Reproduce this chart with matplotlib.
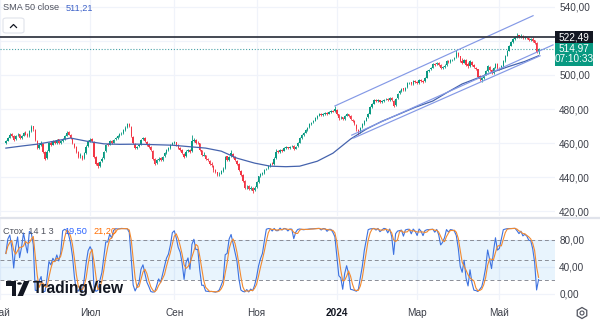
import numpy as np
import pandas as pd
import matplotlib
matplotlib.use("Agg")
import matplotlib.pyplot as plt
from matplotlib.patches import Rectangle, FancyBboxPatch, Circle, Polygon, RegularPolygon
from matplotlib.lines import Line2D

# ---------------- data ----------------
opens = [
    460.0, 461.5, 463.2, 465.4, 464.2, 462.3, 464.5, 465.2, 462.8, 464.3,
    466.4, 465.3, 464.2, 467.2, 469.8, 467.5, 461.5, 457.4, 459.2, 459.6,
    454.6, 451.5, 455.5, 460.3, 459.2, 461.3, 460.2, 462.2, 460.1, 461.2,
    462.2, 464.3, 466.3, 465.0, 462.8, 459.7, 457.6, 454.6, 452.2, 452.7,
    451.3, 454.3, 458.3, 461.2, 462.3, 460.5, 451.6, 448.2, 446.8, 449.3,
    451.4, 455.4, 459.4, 459.2, 461.3, 460.2, 462.2, 463.2, 464.2, 465.8,
    466.1, 467.7, 469.3, 471.2, 469.6, 463.7, 459.6, 457.2, 458.3, 459.2,
    462.3, 463.1, 460.8, 459.2, 457.8, 455.6, 450.6, 448.3, 450.3, 451.2,
    450.3, 452.2, 454.3, 456.2, 457.3, 459.2, 460.2, 460.4, 458.8, 457.1,
    455.8, 453.8, 452.3, 455.2, 456.1, 455.4, 461.3, 461.8, 460.1, 459.8,
    455.7, 452.7, 452.8, 450.8, 449.8, 447.8, 446.7, 444.2, 442.8, 441.7,
    442.2, 443.7, 445.4, 452.2, 450.3, 452.3, 453.8, 451.8, 449.8, 447.7,
    443.8, 441.2, 437.7, 434.2, 434.6, 433.2, 433.8, 432.3, 434.3, 437.3,
    440.7, 442.2, 442.7, 444.7, 445.2, 446.7, 448.2, 447.7, 451.3, 455.3,
    454.8, 456.2, 455.6, 457.2, 457.6, 457.2, 458.2, 458.4, 456.7, 458.2,
    460.3, 463.2, 464.7, 466.2, 467.7, 469.2, 471.2, 472.2, 473.2, 474.7,
    476.2, 477.1, 476.6, 477.1, 477.6, 477.2, 478.2, 479.1, 478.7, 479.6,
    476.8, 474.7, 475.1, 474.2, 476.2, 476.9, 475.8, 473.8, 472.8, 470.8,
    467.8, 466.3, 469.2, 471.2, 473.2, 475.2, 477.3, 481.2, 483.2, 485.1,
    484.6, 485.1, 484.1, 484.7, 485.6, 486.1, 485.2, 486.6, 484.8, 482.3,
    486.3, 489.2, 490.7, 492.1, 491.2, 492.7, 495.2, 495.6, 494.7, 496.6,
    496.1, 495.2, 497.1, 496.6, 496.2, 498.3, 502.2, 503.2, 504.2, 506.6,
    506.2, 507.1, 505.8, 504.2, 504.7, 505.7, 508.1, 507.6, 508.6, 509.2,
    510.2, 512.8, 510.8, 508.3, 507.2, 508.8, 506.2, 505.2, 507.8, 505.8,
    504.3, 503.2, 499.2, 497.3, 498.2, 500.2, 502.2, 504.8, 502.8, 501.2,
    504.2, 506.3, 504.1, 503.7, 505.2, 508.2, 511.2, 514.2, 517.2, 519.2,
    521.2, 522.2, 523.1, 522.2, 522.9, 521.6, 522.1, 521.4, 520.6, 521.1,
    520.2, 518.6, 513.2,
]
highs = [
    462.0, 463.8, 465.8, 466.0, 464.8, 464.7, 465.9, 465.5, 464.6, 466.7,
    466.9, 465.8, 467.6, 470.6, 470.2, 468.0, 462.0, 459.8, 461.0, 460.0,
    455.4, 455.8, 460.6, 461.0, 461.8, 461.9, 462.7, 462.6, 461.7, 462.8,
    464.6, 467.0, 466.9, 465.4, 463.3, 460.2, 458.1, 455.2, 454.0, 453.2,
    454.7, 458.7, 461.8, 463.0, 462.9, 461.0, 452.2, 449.0, 449.6, 451.7,
    455.6, 459.6, 460.1, 461.6, 461.8, 462.6, 463.6, 464.7, 466.2, 466.6,
    468.2, 469.8, 471.8, 471.7, 470.0, 464.2, 460.2, 458.6, 459.7, 462.6,
    463.8, 463.5, 461.3, 459.8, 458.3, 456.1, 451.2, 450.7, 451.8, 451.6,
    452.6, 454.7, 456.6, 457.7, 459.6, 460.8, 461.4, 460.9, 459.3, 457.6,
    456.3, 454.3, 455.7, 456.7, 456.6, 464.5, 463.2, 462.3, 461.2, 460.2,
    456.2, 454.6, 453.3, 451.3, 450.3, 448.9, 447.2, 444.8, 443.3, 442.8,
    444.2, 445.8, 452.6, 452.7, 452.7, 455.8, 454.3, 452.3, 450.3, 448.2,
    444.3, 441.7, 438.2, 435.6, 435.4, 434.8, 434.3, 434.6, 437.6, 441.0,
    442.6, 443.2, 445.1, 445.6, 447.0, 448.6, 448.7, 451.6, 456.6, 455.9,
    456.6, 456.7, 457.6, 458.1, 458.0, 458.6, 459.1, 458.8, 458.6, 460.6,
    463.6, 465.1, 466.6, 468.1, 469.6, 471.6, 472.6, 473.6, 475.1, 476.6,
    477.6, 477.5, 477.6, 478.1, 478.0, 478.6, 479.6, 479.5, 482.0, 480.0,
    477.3, 475.8, 475.6, 476.6, 477.6, 477.3, 476.3, 474.3, 473.3, 471.3,
    468.3, 469.6, 471.6, 473.6, 475.6, 477.6, 481.6, 483.6, 485.6, 485.6,
    485.6, 485.5, 485.1, 486.1, 486.7, 486.5, 487.1, 487.0, 485.3, 486.6,
    489.6, 491.1, 492.6, 492.6, 493.1, 495.6, 496.1, 496.0, 497.1, 497.0,
    496.5, 497.6, 497.6, 497.0, 498.6, 502.6, 503.6, 504.6, 507.1, 507.0,
    507.6, 507.5, 506.3, 505.1, 506.1, 508.6, 508.5, 509.1, 509.6, 510.6,
    514.6, 513.3, 511.3, 509.8, 509.6, 509.3, 507.8, 508.6, 508.3, 506.3,
    504.8, 503.7, 499.7, 498.8, 500.6, 502.6, 505.6, 505.3, 503.3, 504.6,
    507.1, 506.8, 504.6, 505.6, 508.6, 511.6, 514.6, 517.6, 519.6, 521.6,
    522.6, 524.5, 523.6, 523.8, 523.3, 522.6, 522.5, 521.8, 521.6, 522.5,
    520.6, 519.0, 515.6,
]
lows = [
    459.5, 461.0, 462.8, 463.5, 461.5, 461.8, 463.9, 462.6, 462.2, 463.9,
    464.5, 463.4, 463.8, 466.8, 467.4, 461.5, 456.3, 456.8, 458.5, 454.5,
    450.2, 451.0, 455.0, 458.4, 458.8, 459.5, 459.7, 459.5, 459.4, 460.7,
    461.8, 463.9, 464.5, 462.4, 459.4, 457.3, 454.4, 451.3, 451.5, 450.3,
    450.8, 453.8, 457.8, 460.6, 460.4, 451.4, 447.3, 445.5, 446.2, 448.8,
    451.0, 455.0, 458.2, 458.8, 459.4, 459.8, 461.7, 462.7, 463.8, 465.0,
    465.6, 467.3, 468.9, 469.4, 463.4, 459.4, 456.3, 456.5, 457.6, 458.8,
    461.8, 460.4, 458.4, 457.4, 455.4, 450.4, 447.2, 447.8, 449.7, 449.4,
    449.8, 451.7, 453.8, 455.6, 456.8, 458.7, 459.6, 458.4, 456.5, 455.4,
    453.4, 451.3, 451.8, 454.6, 454.4, 455.0, 460.6, 459.4, 459.3, 455.4,
    452.4, 452.3, 450.4, 449.4, 447.4, 446.3, 443.3, 442.4, 440.6, 440.9,
    441.7, 443.2, 445.0, 449.4, 449.8, 451.8, 451.4, 449.4, 447.4, 443.4,
    440.8, 437.3, 433.3, 433.0, 432.3, 432.6, 430.8, 431.8, 433.8, 436.8,
    440.2, 441.5, 442.2, 444.0, 444.7, 446.2, 447.0, 447.3, 450.8, 454.2,
    454.3, 455.0, 455.2, 456.6, 456.4, 456.8, 457.7, 456.0, 456.3, 457.8,
    459.9, 462.7, 464.2, 465.7, 467.2, 468.8, 470.7, 471.7, 472.8, 474.2,
    475.7, 476.0, 476.2, 476.7, 476.5, 476.8, 477.7, 478.0, 478.3, 476.4,
    473.8, 474.0, 473.4, 473.8, 475.7, 475.4, 473.4, 472.4, 470.4, 467.4,
    464.8, 465.8, 468.7, 470.8, 472.8, 474.8, 476.9, 480.8, 482.8, 484.0,
    484.1, 483.5, 483.7, 484.3, 485.2, 484.5, 484.8, 484.5, 481.4, 481.9,
    485.8, 488.7, 490.2, 490.4, 490.7, 492.2, 494.6, 494.0, 494.3, 495.5,
    494.4, 494.8, 496.0, 495.4, 495.8, 497.9, 501.7, 502.7, 503.8, 505.4,
    505.8, 505.4, 503.4, 503.7, 504.3, 505.3, 507.0, 507.2, 508.1, 508.8,
    509.8, 510.4, 507.4, 506.4, 506.8, 505.4, 504.3, 504.8, 505.4, 503.9,
    502.9, 498.4, 496.2, 496.0, 497.8, 499.8, 501.8, 502.4, 500.4, 500.8,
    503.8, 503.4, 502.9, 503.3, 504.8, 507.8, 510.8, 513.8, 516.8, 518.8,
    520.7, 521.7, 521.4, 521.7, 521.0, 521.1, 521.0, 520.0, 520.1, 519.5,
    518.2, 512.8, 512.4,
]
closes = [
    461.0, 463.0, 465.0, 464.0, 462.0, 464.0, 465.0, 463.0, 464.0, 466.0,
    465.0, 464.0, 467.0, 469.5, 468.0, 462.0, 457.0, 459.0, 460.0, 455.0,
    451.0, 455.0, 460.0, 459.0, 461.0, 460.0, 462.0, 460.0, 461.0, 462.0,
    464.0, 466.0, 465.0, 463.0, 460.0, 458.0, 455.0, 452.0, 453.0, 451.0,
    454.0, 458.0, 461.0, 462.0, 461.0, 452.0, 448.0, 446.5, 449.0, 451.0,
    455.0, 459.0, 459.0, 461.0, 460.0, 462.0, 463.0, 464.0, 465.5, 466.0,
    467.5, 469.0, 471.0, 470.0, 464.0, 460.0, 457.0, 458.0, 459.0, 462.0,
    463.0, 461.0, 459.0, 458.0, 456.0, 451.0, 448.0, 450.0, 451.0, 450.0,
    452.0, 454.0, 456.0, 457.0, 459.0, 460.0, 460.5, 459.0, 457.0, 456.0,
    454.0, 452.0, 455.0, 456.0, 455.0, 461.0, 462.0, 460.0, 460.0, 456.0,
    453.0, 453.0, 451.0, 450.0, 448.0, 447.0, 444.0, 443.0, 441.5, 442.0,
    443.5, 445.0, 452.0, 450.0, 452.0, 454.0, 452.0, 450.0, 448.0, 444.0,
    441.5, 438.0, 434.0, 434.5, 433.0, 434.0, 432.0, 434.0, 437.0, 440.5,
    442.0, 442.5, 444.5, 445.0, 446.5, 448.0, 447.5, 451.0, 455.0, 455.0,
    456.0, 455.5, 457.0, 457.5, 457.0, 458.0, 458.5, 456.5, 458.0, 460.0,
    463.0, 464.5, 466.0, 467.5, 469.0, 471.0, 472.0, 473.0, 474.5, 476.0,
    477.0, 476.5, 477.0, 477.5, 477.0, 478.0, 479.0, 478.5, 480.0, 477.0,
    474.5, 475.0, 474.0, 476.0, 477.0, 476.0, 474.0, 473.0, 471.0, 468.0,
    466.0, 469.0, 471.0, 473.0, 475.0, 477.0, 481.0, 483.0, 485.0, 484.5,
    485.0, 484.0, 484.5, 485.5, 486.0, 485.0, 486.5, 485.0, 482.0, 486.0,
    489.0, 490.5, 492.0, 491.0, 492.5, 495.0, 495.5, 494.5, 496.5, 496.0,
    495.0, 497.0, 496.5, 496.0, 498.0, 502.0, 503.0, 504.0, 506.5, 506.0,
    507.0, 506.0, 504.0, 504.5, 505.5, 508.0, 507.5, 508.5, 509.0, 510.0,
    513.0, 511.0, 508.0, 507.0, 509.0, 506.0, 505.0, 508.0, 506.0, 504.5,
    503.5, 499.0, 497.5, 498.0, 500.0, 502.0, 505.0, 503.0, 501.0, 504.0,
    506.5, 504.0, 503.5, 505.0, 508.0, 511.0, 514.0, 517.0, 519.0, 521.0,
    522.0, 523.0, 522.0, 523.0, 521.5, 522.0, 521.5, 520.5, 521.0, 520.0,
    518.8, 513.5, 514.97,
]

# SMA 50 (bar index, value)
sma_idx = [0, 8, 16, 25, 33, 41, 50, 58, 67, 76, 85, 93, 102, 110, 118, 127, 135,
           143, 150, 159, 167, 176, 184, 192, 201, 209, 218, 225, 233, 241, 249,
           257, 265, 272]
sma_val = [457.1, 458.3, 459.4, 461.2, 463.0, 461.2, 459.6, 459.3, 459.4, 459.1,
           458.8, 458.0, 457.1, 455.3, 451.2, 448.3, 446.5, 446.2, 446.5, 449.4,
           454.1, 462.4, 468.2, 472.8, 477.1, 481.0, 484.7, 489.5, 494.7, 498.2,
           501.8, 505.0, 507.9, 511.21]

# user-drawn trend lines (bar index pairs, price pairs)
upper_x, upper_y = [168, 269.2], [481.8, 534.7]
lowa_x, lowa_y = [176.6, 279.4], [464.7, 517.6]
lowb_x, lowb_y = [177.6, 272.8], [463.0, 511.2]

hline_level = 522.49
last_price = 514.97
countdown = "07:10:33"
sma_label = "511,21"
k_label, d_label = "19,50", "21,20"

month_pos = [-3, 43, 86, 128, 169, 210, 252]
month_lbl = ["Май", "Июл", "Сен", "Ноя", "2024", "Мар", "Май"]
price_ticks = [420, 440, 460, 480, 500, 520, 540]
stoch_ticks = [0, 40, 80]
stoch_levels = [80, 50, 20]

# ---------------- style ----------------
plt.rcParams['font.family'] = ['Liberation Sans', 'DejaVu Sans']
UP, DOWN = '#089981', '#F23645'
TXT = '#131722'
LBL = '#3b3e48'
GRID = '#f0f3fa'

W, H = 600, 322
fig = plt.figure(figsize=(6, 3.22), dpi=100)
fig.patch.set_facecolor('white')

def fxy(px, py):
    return px / W, 1 - py / H

ax1 = fig.add_axes([0, 1 - 216 / H, 555 / W, 216 / H])
ax2 = fig.add_axes([0, 1 - 300 / H, 555 / W, 81 / H])
for ax in (ax1, ax2):
    for s in ax.spines.values():
        s.set_visible(False)
    ax.set_xlim(-0.5, 280.4)
    ax.set_xticks(month_pos)
    ax.grid(True, color=GRID, lw=0.9, zorder=0)
    ax.set_axisbelow(True)

# ---- price pane ----
o = np.array(opens); h = np.array(highs); l = np.array(lows); c = np.array(closes)
x = np.arange(len(c))
cols = np.where(c >= o, UP, DOWN)
ax1.vlines(x, l, h, colors=cols, lw=0.6, zorder=3)
ax1.bar(x, np.maximum(np.abs(c - o), 0.3), bottom=np.minimum(o, c), width=0.7,
        color=cols, linewidth=0, zorder=3)
ax1.plot(sma_idx, sma_val, color='#4563ad', lw=0.9, zorder=4)
for xs, ys in ((upper_x, upper_y), (lowa_x, lowa_y), (lowb_x, lowb_y)):
    ax1.plot(xs, ys, color='#8499e6', lw=0.85, zorder=4)
ax1.axhline(hline_level, color='#363a45', lw=1.3, zorder=5)
ax1.axhline(last_price, color='#4aa3a8', lw=0.8, ls=(0, (1, 1.6)), zorder=2)
ax1.set_ylim(417.3, 543.9)
ax1.yaxis.tick_right()
ax1.set_yticks(price_ticks)
ax1.set_yticklabels([("" if v == 520 else f"{v},00") for v in price_ticks])
ax1.tick_params(axis='y', length=0, pad=3, labelsize=7.2, labelcolor=LBL)
ax1.tick_params(axis='x', length=0, labelbottom=False)

# ---- stochastic pane ----
hh = pd.Series(highs).rolling(14, min_periods=1).max()
ll = pd.Series(lows).rolling(14, min_periods=1).min()
k = 100 * (pd.Series(closes) - ll) / (hh - ll)
d = k.rolling(3, min_periods=1).mean()
ax2.axhspan(20, 80, color='#2196f3', alpha=0.1, lw=0, zorder=1)
for lv in stoch_levels:
    ax2.axhline(lv, color='#8a8d96', lw=0.7, ls=(0, (4, 3)), zorder=2)
ax2.plot(x, k, color='#3d72e0', lw=0.8, zorder=4)
ax2.plot(x, d, color='#f28a30', lw=0.8, zorder=4)
ax2.set_ylim(-8.9, 111.1)
ax2.yaxis.tick_right()
ax2.set_yticks(stoch_ticks)
ax2.set_yticklabels([f"{v},00" for v in stoch_ticks])
ax2.tick_params(axis='y', length=0, pad=3, labelsize=7.2, labelcolor=LBL)
ax2.set_xticklabels(month_lbl)
ax2.tick_params(axis='x', length=0, pad=6, labelsize=7.2, labelcolor=LBL)
for t in ax2.get_xticklabels():
    if t.get_text() == "2024":
        t.set_fontweight('bold')
        t.set_color(TXT)

# pane separator
fig.add_artist(Line2D([0, 1], [1 - 217.5 / H] * 2, transform=fig.transFigure,
                      color='#e0e3eb', lw=1.6))

# ---- legends / labels ----
fig.text(*fxy(3, 8), "SMA 50 close", fontsize=6.6, color='#50535e', va='center')
fig.text(*fxy(66, 8), sma_label, fontsize=6.6, color='#3d62c8', va='center')
fig.text(*fxy(3, 231), "Стох. 14 1 3", fontsize=6.6, color='#50535e', va='center')
fig.text(*fxy(64, 231), k_label, fontsize=6.6, color='#2962ff', va='center')
fig.text(*fxy(93, 231), d_label, fontsize=6.6, color='#ff6d00', va='center')

# collapse button
bx, by = fxy(3, 33)
fig.add_artist(FancyBboxPatch((bx, by), 21 / W, 15 / H, boxstyle="round,pad=0,rounding_size=0.006",
                              transform=fig.transFigure, facecolor='white',
                              edgecolor='#e0e3eb', lw=0.8))
p1, p2, p3 = fxy(10.5, 27.5), fxy(13.5, 24.5), fxy(16.5, 27.5)
fig.add_artist(Line2D([p1[0], p2[0], p3[0]], [p1[1], p2[1], p3[1]],
                      transform=fig.transFigure, color=TXT, lw=0.9))

# price labels on the axis
rx, ry = fxy(555, 43)
fig.add_artist(Rectangle((rx, ry), 38 / W, 12 / H, transform=fig.transFigure,
                         facecolor='#131722', lw=0))
fig.text(*fxy(574, 37), "522,49", fontsize=7.2, color='white', ha='center', va='center')
gx, gy = fxy(555, 66)
fig.add_artist(Rectangle((gx, gy), 38 / W, 23 / H, transform=fig.transFigure,
                         facecolor=UP, lw=0))
fig.text(*fxy(574, 48.5), f"{last_price:.2f}".replace('.', ','), fontsize=7.2,
         color='white', ha='center', va='center')
fig.text(*fxy(574, 59.5), countdown, fontsize=7.2, color='white', ha='center', va='center')

# TradingView logo
def poly(pts, color):
    fig.add_artist(Polygon([fxy(px, py) for px, py in pts], closed=True,
                           transform=fig.transFigure, facecolor=color, lw=0))
poly([(6, 281), (16, 281), (16, 296), (12, 296), (12, 285.5), (6, 285.5)], TXT)
cx, cy = fxy(19.5, 283.5)
fig.add_artist(Circle((cx, cy), 2.3 / W, transform=fig.transFigure, facecolor=TXT, lw=0))
poly([(24, 281), (29.5, 281), (23, 296), (17.5, 296)], TXT)
fig.text(*fxy(33, 289), "TradingView", fontsize=11.2, fontweight='bold', color=TXT,
         va='center')

# settings gear (hexagon outline with a ring)
gcx, gcy = 582, 313
fig.add_artist(RegularPolygon((gcx, H - gcy), 6, radius=5.5, orientation=0,
                              transform=None, facecolor='none',
                              edgecolor='#50535e', lw=0.9))
fig.add_artist(Circle((gcx, H - gcy), 2.0, transform=None, facecolor='none',
                      edgecolor='#50535e', lw=0.8))

fig.savefig("out.png", dpi=100)
